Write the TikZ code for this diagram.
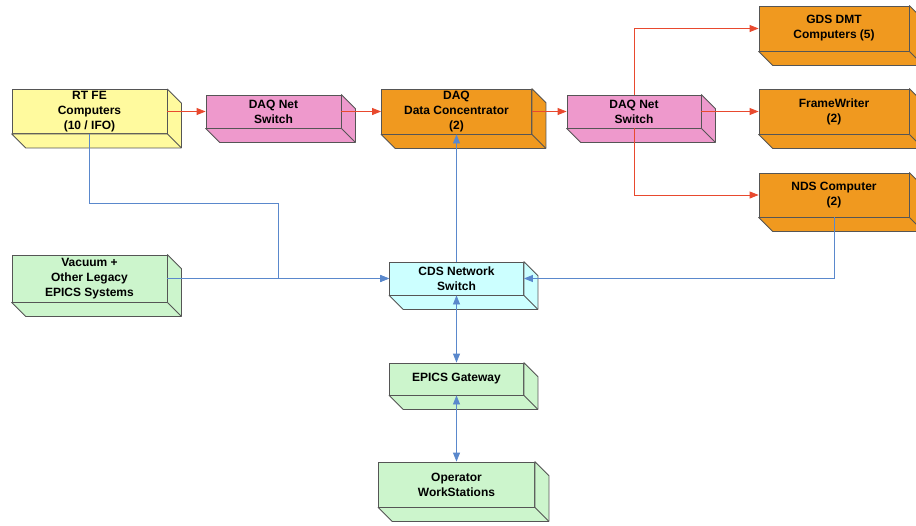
\documentclass[tikz,border=0pt]{standalone}
\usepackage{fontspec}
\setmainfont{Liberation Sans}
\usetikzlibrary{arrows.meta}
\definecolor{feyellow}{HTML}{FFFA9E}
\definecolor{netpink}{HTML}{EE99CC}
\definecolor{daqorange}{HTML}{F0991F}
\definecolor{cdscyan}{HTML}{CCFFFF}
\definecolor{epicsgreen}{HTML}{CCF5CC}
\definecolor{boxedge}{HTML}{555555}
\definecolor{daqred}{HTML}{E8492E}
\definecolor{cdsblue}{HTML}{5A88CC}
\begin{document}
\begin{tikzpicture}[x=1pt, y=-1pt, font=\fontsize{12}{15}\selectfont\bfseries]
    \tikzstyle{box}=[draw=boxedge, line width=0.8pt, align=center, inner sep=0pt]
    \tikzstyle{bigbox}=[box, minimum width=150pt, minimum height=45pt]
    \tikzstyle{smallbox}=[box, minimum width=134pt, minimum height=33pt]
    \tikzstyle{daqlink}=[draw=daqred, line width=0.8pt, -{Triangle[length=9pt, width=7pt]}]
    \tikzstyle{cdslink}=[draw=cdsblue, line width=0.8pt, -{Triangle[length=9pt, width=7pt]}]
    \tikzstyle{cdsboth}=[draw=cdsblue, line width=0.8pt, {Triangle[length=9pt, width=7pt]}-{Triangle[length=9pt, width=7pt]}]

    \useasboundingbox (0,0) rectangle (916,525);

    % DAQ row
    \node[bigbox, fill=feyellow, minimum width=155pt, minimum height=44pt] (rtfe) at (89.5,111.5) {RT FE\\Computers\\(10 / IFO)};
    \node[smallbox, fill=netpink, minimum width=135pt] (daqsw1) at (273.5,111.5) {DAQ Net\\Switch};
    \node[bigbox, fill=daqorange] (daqdc) at (456.5,111.5) {DAQ\\Data Concentrator\\(2)};
    \node[smallbox, fill=netpink] (daqsw2) at (634,111.5) {DAQ Net\\Switch};
    \node[bigbox, fill=daqorange] (gds) at (834,28.5) {GDS DMT\\Computers (5)};
    \node[bigbox, fill=daqorange] (fw) at (834,111.5) {FrameWriter\\(2)};
    \node[bigbox, fill=daqorange, minimum height=44pt] (nds) at (834,195) {NDS Computer\\(2)};

    % CDS / EPICS
    \node[bigbox, fill=epicsgreen, minimum width=155pt, minimum height=47pt] (vac) at (89.5,278.5) {Vacuum +\\Other Legacy\\EPICS Systems};
    \node[smallbox, fill=cdscyan] (cds) at (456.5,278.5) {CDS Network\\Switch};
    \node[smallbox, fill=epicsgreen, minimum height=32pt] (gw) at (456.5,379) {EPICS Gateway};
    \node[bigbox, fill=epicsgreen, minimum width=156pt] (ops) at (456.5,484.5) {Operator\\WorkStations};

    % box depth
    \foreach \n/\c in {rtfe/feyellow, daqsw1/netpink, daqdc/daqorange, daqsw2/netpink,
                       gds/daqorange, fw/daqorange, nds/daqorange, vac/epicsgreen,
                       cds/cdscyan, gw/epicsgreen, ops/epicsgreen} {
        \filldraw[fill=\c, draw=boxedge, line width=0.8pt, line join=round]
            (\n.north east) -- ++(14,14) -- ([shift={(14,14)}]\n.south east)
            -- ([shift={(14,14)}]\n.south west) -- (\n.south west) -- (\n.south east) -- cycle;
        \draw[boxedge, line width=0.8pt] (\n.south east) -- ++(14,14);
    }

    % DAQ links
    \draw[daqlink] (rtfe.east) -- (daqsw1.west);
    \draw[daqlink] (daqsw1.east) -- (daqdc.west);
    \draw[daqlink] (daqdc.east) -- (daqsw2.west);
    \draw[daqlink] (daqsw2.east) -- (fw.west);
    \draw[daqlink] (daqsw2.north) |- (gds.west);
    \draw[daqlink] (daqsw2.south) |- (nds.west);

    % CDS links
    \coordinate (fejog) at (278,203);
    \draw[cdslink] (rtfe.south) |- (fejog) |- (cds.west);
    \draw[cdslink] (vac.east) -- (cds.west);
    \draw[cdslink] (nds.south) |- (cds.east);
    \draw[cdslink] (cds.north) -- (daqdc.south);
    \draw[cdsboth] (cds.south) -- (gw.north);
    \draw[cdsboth] (gw.south) -- (ops.north);
\end{tikzpicture}
\end{document}
